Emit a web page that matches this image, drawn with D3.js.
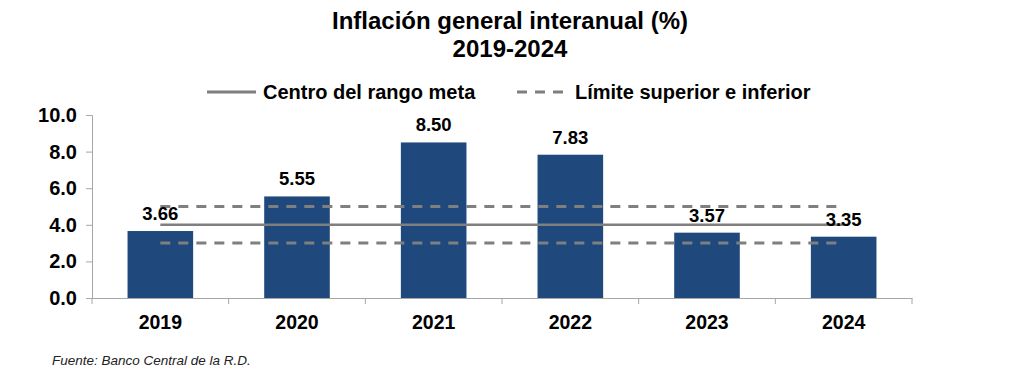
<!DOCTYPE html>
<html>
<head>
<meta charset="utf-8">
<script src="https://cdn.jsdelivr.net/npm/d3@7"></script>
<style>
  body { margin: 0; background: #fff; }
  svg text { font-family: "Liberation Sans", Arial, sans-serif; }
</style>
</head>
<body>
<svg id="chart"></svg>
<script>
var years = ["2019", "2020", "2021", "2022", "2023", "2024"];
var inflation = [3.66, 5.55, 8.50, 7.83, 3.57, 3.35];
var targetCenter = [4, 4, 4, 4, 4, 4];
var targetUpper = [5, 5, 5, 5, 5, 5];
var targetLower = [3, 3, 3, 3, 3, 3];
var yTicks = [0, 2, 4, 6, 8, 10];

var width = 1024, height = 381;
var svg = d3.select("#chart").attr("width", width).attr("height", height);

var x = d3.scaleBand().domain(years).range([92, 912]).paddingInner(0.52).paddingOuter(0.26);
var xb = d3.scaleBand().domain(years).range([92, 912]);
var y = d3.scaleLinear().domain([0, 10]).range([298, 115]);

// title
svg.append("text").attr("x", 510).attr("y", 29).attr("text-anchor", "middle")
  .style("font-size", "24px").style("font-weight", "bold").text("Inflación general interanual (%)");
svg.append("text").attr("x", 510).attr("y", 57).attr("text-anchor", "middle")
  .style("font-size", "24px").style("font-weight", "bold").text("2019-2024");

// legend
var lg = svg.append("g");
lg.append("line").attr("x1", 207).attr("x2", 256).attr("y1", 92).attr("y2", 92)
  .attr("stroke", "#7f7f7f").attr("stroke-width", 3);
lg.append("text").attr("x", 263).attr("y", 99).style("font-size", "20px").style("font-weight", "bold")
  .text("Centro del rango meta");
lg.append("line").attr("x1", 517).attr("x2", 567).attr("y1", 92).attr("y2", 92)
  .attr("stroke", "#7f7f7f").attr("stroke-width", 3).attr("stroke-dasharray", "10,8");
lg.append("text").attr("x", 575).attr("y", 99).style("font-size", "20px").style("font-weight", "bold")
  .text("Límite superior e inferior");

// axes
var yAxis = svg.append("g").attr("transform", "translate(92,0)")
  .call(d3.axisLeft(y).tickValues(yTicks).tickFormat(d3.format(".1f")).tickSizeOuter(0).tickSize(6));
var xAxis = svg.append("g").attr("transform", "translate(0,298)")
  .call(d3.axisBottom(xb).tickSize(0).tickSizeOuter(0));
xAxis.selectAll(".tick").remove();
var bounds = xb.domain().map(function (d) { return xb(d); }).concat([912]);
xAxis.selectAll(".sep").data(bounds).enter().append("line")
  .attr("x1", function (d) { return d; }).attr("x2", function (d) { return d; })
  .attr("y1", 0).attr("y2", 6).attr("stroke", "#a6a6a6");
xAxis.selectAll(".lab").data(years).enter().append("text")
  .attr("x", function (d) { return xb(d) + xb.bandwidth() / 2; }).attr("y", 31)
  .attr("text-anchor", "middle").attr("fill", "#000")
  .style("font-size", "19.5px").style("font-weight", "bold").text(function (d) { return d; });

[yAxis, xAxis].forEach(function (a) {
  a.selectAll(".domain, .tick line").attr("stroke", "#a6a6a6");
});
yAxis.selectAll(".tick text").attr("fill", "#000").attr("x", -15)
  .style("font-size", "20px").style("font-weight", "bold").style("font-family", "Liberation Sans, Arial, sans-serif");

// bars
svg.selectAll(".bar").data(inflation).enter().append("rect")
  .attr("x", function (d, i) { return x(years[i]); })
  .attr("y", function (d) { return y(d); })
  .attr("width", x.bandwidth())
  .attr("height", function (d) { return y(0) - y(d); })
  .attr("fill", "#1f497d");

// target lines
function cx(d, i) { return xb(years[i]) + xb.bandwidth() / 2; }
var line = d3.line().x(cx).y(function (d) { return y(d); });
svg.append("path").datum(targetCenter).attr("d", line).attr("fill", "none")
  .attr("stroke", "#7f7f7f").attr("stroke-width", 2.5);
[targetUpper, targetLower].forEach(function (s) {
  svg.append("path").datum(s).attr("d", line).attr("fill", "none")
    .attr("stroke", "#7f7f7f").attr("stroke-width", 3).attr("stroke-dasharray", "10,8");
});

// value labels
svg.selectAll(".val").data(inflation).enter().append("text")
  .attr("x", cx).attr("y", function (d) { return y(d) - 11; })
  .attr("text-anchor", "middle").style("font-size", "18.5px").style("font-weight", "bold")
  .text(function (d) { return d.toFixed(2); });

// source
svg.append("text").attr("x", 52).attr("y", 365).style("font-size", "13.5px").style("font-style", "italic")
  .attr("fill", "#222").text("Fuente: Banco Central de la R.D.");
</script>
</body>
</html>
